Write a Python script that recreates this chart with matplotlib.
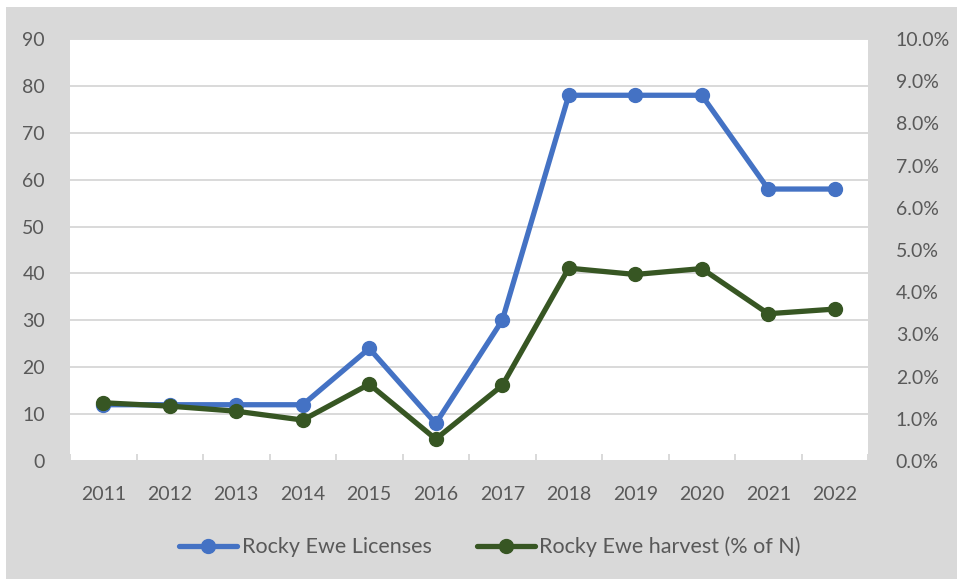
import matplotlib
matplotlib.use("Agg")
import matplotlib.pyplot as plt
from matplotlib.patches import Rectangle
from matplotlib.ticker import FuncFormatter, FixedLocator
import numpy as np

years = ["2011", "2012", "2013", "2014", "2015", "2016",
         "2017", "2018", "2019", "2020", "2021", "2022"]
licenses = [12, 12, 12, 12, 24, 8, 30, 78, 78, 78, 58, 58]
harvest_pct = [1.38, 1.30, 1.18, 0.97, 1.82, 0.52, 1.79, 4.57, 4.42, 4.56, 3.49, 3.60]

label_lic = "Rocky Ewe Licenses"
label_har = "Rocky Ewe harvest (% of N)"

plt.rcParams['font.family'] = ['Lato', 'DejaVu Sans']
txt = "#595959"
grid_c = "#d9d9d9"
blue = "#4472C4"
green = "#375623"

W, H = 957, 581
fig = plt.figure(figsize=(W / 100, H / 100), dpi=100, facecolor="white")
fig.patches.append(Rectangle((6 / W, 2 / H), 1 - 6 / W, (579 - 7) / H,
                             transform=fig.transFigure, facecolor=grid_c,
                             edgecolor="none", zorder=-10))

ax = fig.add_axes([70 / W, (H - 461) / H, (868 - 70) / W, (461 - 39) / H])
ax.set_facecolor("white")
x = np.arange(len(years))

ax.plot(x, licenses, color=blue, lw=3.8, marker="o", ms=10,
        solid_capstyle="round", label=label_lic, zorder=3)
ax.set_xlim(-0.5, len(years) - 0.5)
ax.set_ylim(0, 90)
ax.set_yticks(np.arange(0, 91, 10))
ax.yaxis.grid(True, color=grid_c, lw=1.4)
ax.set_axisbelow(True)
for s in ["top", "left", "right"]:
    ax.spines[s].set_visible(False)
ax.spines["bottom"].set_color(grid_c)
ax.spines["bottom"].set_linewidth(1.4)
ax.set_xticks(x)
ax.set_xticklabels(years)
ax.xaxis.set_minor_locator(FixedLocator(np.arange(-0.5, len(years), 1.0)))
ax.tick_params(axis="x", which="major", length=0, pad=18, labelsize=14, labelcolor=txt)
ax.tick_params(axis="x", which="minor", direction="in", length=5, width=1.4, color=grid_c)
ax.tick_params(axis="y", length=0, pad=18, labelsize=14, labelcolor=txt)

ax2 = ax.twinx()
ax2.patch.set_visible(False)
ax2.plot(x, harvest_pct, color=green, lw=3.8, marker="o", ms=10,
         solid_capstyle="round", label=label_har, zorder=4)
ax2.set_ylim(0, 10)
ax2.set_yticks(np.arange(0, 10.01, 1))
ax2.yaxis.set_major_formatter(FuncFormatter(lambda v, p: f"{v:.1f}%"))
ax2.tick_params(axis="y", length=0, pad=20, labelsize=14, labelcolor=txt)
for s in ["top", "left", "right", "bottom"]:
    ax2.spines[s].set_visible(False)

h1, l1 = ax.get_legend_handles_labels()
h2, l2 = ax2.get_legend_handles_labels()
fig.legend(h1 + h2, l1 + l2, loc="center", bbox_to_anchor=(490 / W, (H - 547) / H),
           ncol=2, frameon=False, fontsize=15.5, labelcolor=txt,
           handlelength=2.7, handletextpad=0.2, columnspacing=2.1)

fig.savefig("out.png", dpi=100, facecolor="white")
